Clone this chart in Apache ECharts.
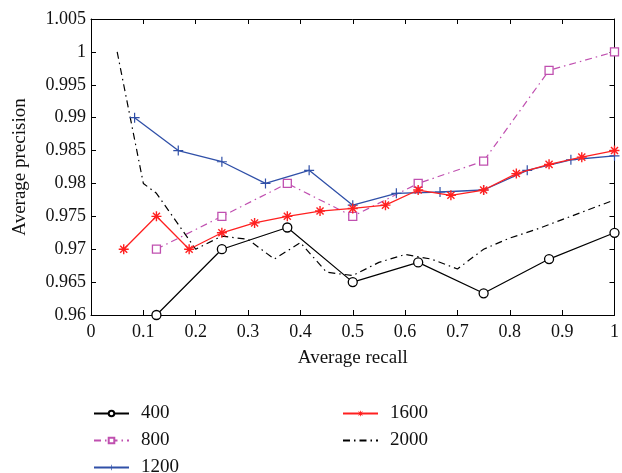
<!DOCTYPE html>
<html><head><meta charset="utf-8">
<script src="https://cdn.jsdelivr.net/npm/echarts@6/dist/echarts.min.js"></script>
<style>html,body{margin:0;padding:0;background:#fff}#c{width:622px;height:473px}</style>
</head><body><div id="c"></div>
<script>
var xTicks = [0,0.1,0.2,0.3,0.4,0.5,0.6,0.7,0.8,0.9,1];
var yTicks = [0.96,0.965,0.97,0.975,0.98,0.985,0.99,0.995,1,1.005];

var x400 = [0.125,0.25,0.375,0.5,0.625,0.75,0.875,1];
var y400 = [0.96,0.97,0.9733,0.965,0.968,0.9633,0.9685,0.9725];

var x800 = [0.125,0.25,0.375,0.5,0.625,0.75,0.875,1];
var y800 = [0.97,0.975,0.98,0.975,0.98,0.9834,0.9972,1.0];

var x1200 = [0.0833,0.1667,0.25,0.3333,0.4167,0.5,0.5833,0.6667,0.75,0.8333,0.9167,1];
var y1200 = [0.99,0.985,0.9833,0.98,0.982,0.9767,0.9785,0.9787,0.979,0.982,0.9836,0.9842];

var x1600 = [0.0625,0.125,0.1875,0.25,0.3125,0.375,0.4375,0.5,0.5625,0.625,0.6875,0.75,0.8125,0.875,0.9375,1];
var y1600 = [0.97,0.975,0.97,0.9725,0.974,0.975,0.9758,0.9762,0.9767,0.979,0.9782,0.979,0.9815,0.9829,0.984,0.985];

var x2000 = [0.05,0.1,0.125,0.2,0.25,0.3,0.35,0.4,0.45,0.5,0.55,0.6,0.65,0.7,0.75,0.8,0.85,0.9,0.95,1];
var y2000 = [1.0,0.98,0.9785,0.97,0.972,0.9715,0.9685,0.971,0.9665,0.966,0.968,0.9692,0.9685,0.967,0.970,0.9717,0.973,0.9745,0.976,0.9775];

var seriesNames = ['400','800','1200','1600','2000'];

function pairs(xs, ys){ return xs.map(function(x,i){ return [x, ys[i]]; }); }

// symbol shapes
var plusPath = 'path://M4.4,0H5.6V10H4.4Z M0,4.4H10V5.6H0Z';
function starPath(){
  var s = 'path://';
  var w = 0.7, r = 5;
  for (var k = 0; k < 4; k++){
    var a = k * Math.PI / 4;
    var c = Math.cos(a), si = Math.sin(a);
    var px = -si * w, py = c * w;
    var pts = [[-r*c+px, -r*si+py],[r*c+px, r*si+py],[r*c-px, r*si-py],[-r*c-px, -r*si-py]];
    s += 'M' + pts.map(function(p){ return (p[0]+5).toFixed(2)+','+(p[1]+5).toFixed(2); }).join('L') + 'Z ';
  }
  return s;
}

var font = 'Liberation Serif';
var legendPos = [[93,404],[93,431],[93,458],[342,404],[342,431]];
var legends = seriesNames.map(function(n, i){
  var item = {name: n};
  if (n === '2000') item.itemStyle = {opacity: 0};
  return {data: [item], left: legendPos[i][0], top: legendPos[i][1], itemWidth: 35, itemHeight: 7,
    itemGap: 0, padding: 0, textStyle: {fontFamily: font, fontSize: 19, color: '#111', padding: [0,0,0,7]}};
});

var chart = echarts.init(document.getElementById('c'));
var axisCommon = {
  axisLine: {show: true, onZero: false, lineStyle: {color: '#000', width: 1}},
  axisTick: {show: true, inside: true, length: 5, lineStyle: {color: '#000'}},
  splitLine: {show: false}
};
chart.setOption({
  animation: false,
  backgroundColor: '#fff',
  grid: {left: 91, right: 5, top: 19, bottom: 158},
  legend: legends,
  xAxis: [
    Object.assign({type: 'value', min: 0, max: 1, interval: 0.1, position: 'bottom',
      name: 'Average recall', nameLocation: 'middle', nameGap: 34,
      nameTextStyle: {fontFamily: font, fontSize: 19, color: '#111'},
      axisLabel: {fontFamily: font, fontSize: 18, color: '#111', margin: 8,
        formatter: function(v){ return String(parseFloat(v.toFixed(2))); }}}, axisCommon),
    Object.assign({type: 'value', min: 0, max: 1, interval: 0.1, position: 'top', axisLabel: {show: false}}, axisCommon)
  ],
  yAxis: [
    Object.assign({type: 'value', min: 0.96, max: 1.005, interval: 0.005, position: 'left',
      name: 'Average precision', nameLocation: 'middle', nameGap: 61,
      nameTextStyle: {fontFamily: font, fontSize: 19, color: '#111'},
      axisLabel: {fontFamily: font, fontSize: 18, color: '#111', margin: 5,
        formatter: function(v){ return String(parseFloat(v.toFixed(3))); }}}, axisCommon),
    Object.assign({type: 'value', min: 0.96, max: 1.005, interval: 0.005, position: 'right', axisLabel: {show: false}}, axisCommon)
  ],
  series: [
    {name: '2000', type: 'line', data: pairs(x2000, y2000), symbol: 'none', z: 1,
     lineStyle: {color: '#000', width: 1.2, type: [7,4,1.5,4]}, itemStyle: {color: '#000'}},
    {name: '800', type: 'line', data: pairs(x800, y800), symbol: 'rect', symbolSize: 8, z: 2,
     lineStyle: {color: '#c050b0', width: 1.2, type: [7,4,1.5,4]},
     itemStyle: {color: '#fff', borderColor: '#c050b0', borderWidth: 1.3}},
    {name: '1200', type: 'line', data: pairs(x1200, y1200), symbol: plusPath, symbolSize: 10, z: 3,
     lineStyle: {color: '#3050a8', width: 1.3}, itemStyle: {color: '#3050a8'}},
    {name: '1600', type: 'line', data: pairs(x1600, y1600), symbol: starPath(), symbolSize: 10, z: 4,
     lineStyle: {color: '#ff2020', width: 1.3}, itemStyle: {color: '#ff2020'}},
    {name: '400', type: 'line', data: pairs(x400, y400), symbol: 'circle', symbolSize: 9, z: 5,
     lineStyle: {color: '#000', width: 1.2},
     itemStyle: {color: '#fff', borderColor: '#000', borderWidth: 1.3}}
  ]
});
</script></body></html>
